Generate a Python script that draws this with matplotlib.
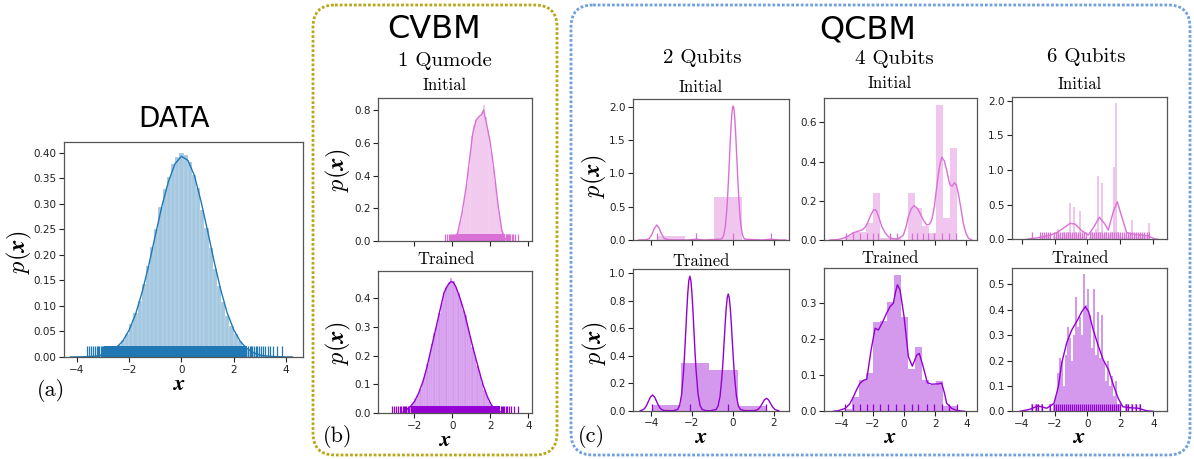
import numpy as np
import matplotlib
matplotlib.use('Agg')
import matplotlib.pyplot as plt
from matplotlib.patches import FancyBboxPatch
from matplotlib import transforms

plt.rcParams['mathtext.fontset'] = 'cm'
plt.rcParams['font.family'] = 'DejaVu Sans'

W, H = 1194, 459
C_DATA = '#1f77b4'
C_INIT = 'orchid'
C_TRAIN = 'darkviolet'

# ---------------- data ----------------
# DATA panel: normal samples
data_hist_range = (-3.76, 3.92)
data_hist = [0.001, 0.001, 0.002, 0.003, 0.004, 0.006, 0.010, 0.016, 0.023, 0.033, 0.045, 0.064,
             0.086, 0.110, 0.143, 0.178, 0.215, 0.250, 0.293, 0.328, 0.352, 0.377, 0.392, 0.400,
             0.395, 0.381, 0.356, 0.330, 0.288, 0.252, 0.214, 0.172, 0.140, 0.108, 0.080, 0.061,
             0.046, 0.031, 0.021, 0.014, 0.010, 0.006, 0.004, 0.002, 0.002, 0.001, 0.001, 0.001]
data_kde_x = [-4.25, -4.0, -3.75, -3.5, -3.25, -3.0, -2.75, -2.5, -2.25, -2.0, -1.75, -1.5, -1.25,
              -1.0, -0.75, -0.5, -0.25, 0.0, 0.25, 0.5, 0.75, 1.0, 1.25, 1.5, 1.75, 2.0, 2.25,
              2.5, 2.75, 3.0, 3.25, 3.5, 3.75, 4.0, 4.25]
data_kde_y = [0.0001, 0.0002, 0.0005, 0.001, 0.002, 0.005, 0.009, 0.018, 0.031, 0.053, 0.085,
              0.128, 0.180, 0.238, 0.295, 0.343, 0.378, 0.393, 0.385, 0.355, 0.305, 0.248, 0.188,
              0.133, 0.087, 0.054, 0.031, 0.017, 0.009, 0.004, 0.002, 0.001, 0.0005, 0.0002, 0.0001]
data_rug_core = (-2.98, 2.52)
data_rug = [-3.62, -3.55, -3.46, -3.38, -3.33, -3.25, -3.2, -3.14, -3.1, -3.05, -3.01,
            2.57, 2.62, 2.67, 2.72, 2.78, 2.84, 2.9, 2.97, 3.04, 3.12, 3.2, 3.3, 3.4, 3.52,
            3.66, 3.84]

# CVBM, 1 qumode
cv_init_hist_range = (0.0, 2.9)
cv_init_hist = [0.01, 0.02, 0.04, 0.08, 0.13, 0.19, 0.28, 0.35, 0.45, 0.55, 0.64, 0.71, 0.74,
                0.75, 0.76, 0.78, 0.83, 0.76, 0.68, 0.62, 0.55, 0.45, 0.37, 0.27, 0.18, 0.10,
                0.05, 0.02, 0.01]
cv_init_kde_x = [0.0, 0.27, 0.5, 0.72, 0.9, 1.07, 1.25, 1.4, 1.52, 1.64, 1.75, 1.96, 2.1, 2.23,
                 2.4, 2.59, 2.75, 2.9]
cv_init_kde_y = [0.005, 0.05, 0.17, 0.33, 0.50, 0.66, 0.74, 0.76, 0.77, 0.80, 0.74, 0.62, 0.51,
                 0.39, 0.22, 0.07, 0.02, 0.0]
cv_init_rug_core = (0.3, 2.75)
cv_init_rug = [-0.39, -0.3, -0.2, -0.12, -0.05, 0.0, 0.05, 0.1, 0.14, 0.18, 0.22, 0.26,
               2.8, 2.84, 2.88, 2.92, 2.96, 3.0, 3.05, 3.12, 3.2, 3.3, 3.46]

cv_train_hist_range = (-2.5, 2.5)
cv_train_hist = [0.01, 0.016, 0.025, 0.035, 0.048, 0.064, 0.085, 0.11, 0.135, 0.17, 0.205, 0.24,
                 0.28, 0.31, 0.35, 0.385, 0.42, 0.44, 0.455, 0.47, 0.46, 0.44, 0.42, 0.39, 0.36,
                 0.34, 0.30, 0.27, 0.23, 0.20, 0.165, 0.135, 0.105, 0.08, 0.06, 0.042, 0.028,
                 0.018, 0.01, 0.006]
cv_train_kde_x = [-2.6, -2.22, -2.0, -1.78, -1.55, -1.34, -1.1, -0.89, -0.65, -0.44, -0.25, -0.09,
                  0.05, 0.18, 0.4, 0.63, 0.85, 1.07, 1.35, 1.6, 1.85, 2.05, 2.3, 2.6]
cv_train_kde_y = [0.003, 0.022, 0.04, 0.069, 0.11, 0.16, 0.23, 0.29, 0.36, 0.42, 0.445, 0.458,
                  0.455, 0.44, 0.40, 0.35, 0.29, 0.23, 0.16, 0.10, 0.055, 0.028, 0.01, 0.002]
cv_train_rug_core = (-2.2, 2.5)
cv_train_rug = [-3.2, -3.05, -2.95, -2.85, -2.78, -2.7, -2.62, -2.55, -2.48, -2.42, -2.35, -2.28,
                2.55, 2.6, 2.66, 2.72, 2.8, 2.88, 2.97, 3.1, 3.25, 3.46]

# QCBM, 2 qubits
q2_init_hist_range = (-3.72, 1.85)
q2_init_hist = [0.065, 0.004, 0.65, 0.006]
q2_init_kde_x = [-4.6, -4.3, -4.1, -3.95, -3.85, -3.72, -3.6, -3.5, -3.35, -3.1, -2.2, -1.8, -1.4,
                 -0.6, -0.5, -0.45, -0.4, -0.35, -0.3, -0.25, -0.2, -0.15, -0.1, -0.05, 0.0, 0.05,
                 0.1, 0.15, 0.2, 0.25, 0.3, 0.35, 0.4, 0.45, 0.5, 0.55, 0.6, 1.45, 1.85, 2.25, 2.6]
q2_init_kde_y = [0.0, 0.002, 0.018, 0.09, 0.168, 0.225, 0.176, 0.097, 0.021, 0.002, 0.001, 0.012,
                 0.001, 0.012, 0.031, 0.067, 0.133, 0.245, 0.416, 0.656, 0.957, 1.293, 1.618,
                 1.873, 2.007, 1.992, 1.830, 1.555, 1.225, 0.893, 0.601, 0.376, 0.218, 0.116,
                 0.057, 0.026, 0.012, 0.001, 0.012, 0.001, 0.0]
q2_init_rug = [-3.72, -1.8, 0.0, 1.85]

q2_train_hist_range = (-3.93, 1.65)
q2_train_hist = [0.04, 0.345, 0.30, 0.036]
q2_train_kde_x = [-4.53, -4.43, -4.33, -4.23, -4.13, -4.03, -3.93, -3.83, -3.73, -3.63, -3.53,
                  -3.43, -3.33, -2.9, -2.7, -2.6, -2.5, -2.4, -2.35, -2.3, -2.25, -2.2, -2.15,
                  -2.1, -2.05, -2.0, -1.95, -1.9, -1.85, -1.8, -1.7, -1.6, -1.5, -1.3, -1.1,
                  -0.82, -0.72, -0.62, -0.52, -0.47, -0.42, -0.37, -0.32, -0.27, -0.22, -0.17,
                  -0.12, -0.07, -0.02, 0.03, 0.08, 0.18, 0.28, 0.38, 0.6, 0.9, 1.05, 1.15, 1.25,
                  1.35, 1.45, 1.55, 1.65, 1.75, 1.85, 1.95, 2.05, 2.15, 2.25]
q2_train_kde_y = [0.001, 0.0044, 0.014, 0.035, 0.068, 0.100, 0.114, 0.100, 0.068, 0.035, 0.014,
                  0.0044, 0.001, 0.0, 0.009, 0.038, 0.1225, 0.304, 0.434, 0.582, 0.731, 0.860,
                  0.949, 0.98, 0.949, 0.860, 0.731, 0.582, 0.434, 0.304, 0.1225, 0.038, 0.009,
                  0.0002, 0.0, 0.008, 0.033, 0.106, 0.264, 0.377, 0.505, 0.634, 0.746, 0.823,
                  0.85, 0.823, 0.746, 0.634, 0.505, 0.377, 0.264, 0.106, 0.033, 0.008, 0.0002,
                  0.0, 0.001, 0.0035, 0.011, 0.028, 0.053, 0.079, 0.09, 0.079, 0.053, 0.028,
                  0.011, 0.0035, 0.001]
q2_train_rug = [-3.93, -2.1, -0.22, 1.65]

# QCBM, 4 qubits
q4_hist_range = (-3.79, 3.39)
q4_init_hist = [0.02, 0.04, 0.04, 0.085, 0.24, 0.01, 0.01, 0.01, 0.0, 0.24, 0.165, 0.073, 0.034,
                0.69, 0.11, 0.47]
q4_init_kde_x = [-4.76, -4.3, -3.9, -3.55, -3.26, -2.95, -2.72, -2.5, -2.36, -2.15, -1.97, -1.86,
                 -1.76, -1.6, -1.43, -1.2, -1.01, -0.75, -0.47, -0.25, -0.04, 0.12, 0.28, 0.45,
                 0.64, 0.85, 1.03, 1.25, 1.46, 1.62, 1.78, 1.95, 2.1, 2.27, 2.42, 2.58, 2.74,
                 2.86, 2.96, 3.1, 3.24, 3.36, 3.49, 3.65, 3.81, 3.98, 4.14, 4.35]
q4_init_kde_y = [0.0, 0.002, 0.009, 0.022, 0.037, 0.045, 0.051, 0.065, 0.085, 0.125, 0.153, 0.155,
                 0.145, 0.11, 0.068, 0.035, 0.017, 0.007, 0.005, 0.012, 0.026, 0.065, 0.119,
                 0.158, 0.175, 0.162, 0.136, 0.10, 0.077, 0.080, 0.102, 0.17, 0.272, 0.37, 0.422,
                 0.405, 0.357, 0.31, 0.28, 0.275, 0.292, 0.28, 0.238, 0.165, 0.085, 0.035, 0.009,
                 0.0]
q4_init_rug = [-3.73, -3.26, -2.83, -2.40, -2.02, -1.65, -0.90, -0.43, 0.49, 0.82, 1.20, 1.56,
               1.95, 2.42, 2.91, 3.34]

q4_train_hist = [0.005, 0.04, 0.087, 0.105, 0.248, 0.25, 0.304, 0.378, 0.26, 0.116, 0.177, 0.087,
                 0.073, 0.084, 0.016, 0.016]
q4_train_kde_x = [-4.55, -4.2, -3.79, -3.5, -3.26, -3.05, -2.83, -2.6, -2.4, -2.12, -1.86, -1.65,
                  -1.37, -1.11, -0.9, -0.69, -0.55, -0.43, -0.26, 0.0, 0.28, 0.53, 0.82, 0.98,
                  1.2, 1.5, 1.78, 2.21, 2.42, 2.6, 2.74, 3.07, 3.39, 3.9]
q4_train_kde_y = [0.0, 0.002, 0.008, 0.02, 0.04, 0.06, 0.078, 0.086, 0.089, 0.17, 0.23, 0.225,
                  0.248, 0.273, 0.29, 0.299, 0.33, 0.35, 0.336, 0.262, 0.151, 0.125, 0.156, 0.16,
                  0.128, 0.079, 0.075, 0.076, 0.078, 0.05, 0.022, 0.008, 0.002, 0.0]
q4_train_rug = [-3.79, -3.26, -2.83, -2.36, -1.97, -1.54, -1.01, -0.51, 0.0, 0.49, 0.92, 1.46,
                1.93, 2.42, 2.91, 3.39]

# QCBM, 6 qubits (rug ticks sit on the occupied bins)
q6_hist_range = (-3.551, 3.769)
q6_init_hist = [0.0, 0.03, 0.0, 0.0, 0.0, 0.03, 0.03, 0.03, 0.06, 0.03, 0.06, 0.0, 0.08, 0.03,
                0.145, 0.06, 0.03, 0.1, 0.06, 0.1, 0.52, 0.06, 0.47, 0.1, 0.06, 0.41, 0.03, 0.06,
                0.03, 0.0, 0.03, 0.1, 0.06, 0.145, 0.915, 0.1, 0.82, 0.06, 0.1, 0.03, 0.06, 0.1,
                1.04, 1.97, 0.1, 0.06, 0.03, 0.03, 0.06, 0.03, 0.06, 0.28, 0.03, 0.06, 0.03, 0.06,
                0.03, 0.06, 0.03, 0.23]
q6_init_kde_x = [-3.7, -3.1, -2.48, -2.15, -1.87, -1.47, -1.06, -0.76, -0.35, 0.05, 0.39, 0.72,
                 1.06, 1.26, 1.57, 1.81, 2.08, 2.38, 2.75, 3.19, 3.7, 4.1, 4.3]
q6_init_kde_y = [0.0, 0.02, 0.048, 0.07, 0.096, 0.16, 0.23, 0.22, 0.124, 0.062, 0.18, 0.318,
                 0.22, 0.134, 0.40, 0.543, 0.327, 0.096, 0.077, 0.062, 0.048, 0.004, 0.0]

q6_train_hist = [0.0, 0.03, 0.0, 0.03, 0.03, 0.0, 0.03, 0.0, 0.0, 0.0, 0.03, 0.0, 0.03, 0.06,
                 0.15, 0.21, 0.2, 0.1, 0.22, 0.33, 0.29, 0.2, 0.3, 0.45, 0.33, 0.37, 0.3, 0.54,
                 0.42, 0.48, 0.38, 0.25, 0.48, 0.22, 0.39, 0.21, 0.38, 0.2, 0.12, 0.2, 0.1, 0.14,
                 0.06, 0.12, 0.03, 0.03, 0.0, 0.0, 0.03, 0.03, 0.0, 0.03, 0.0, 0.03, 0.0, 0.03,
                 0.0, 0.0, 0.0, 0.0]
q6_train_kde_x = [-4.1, -3.5, -2.99, -2.48, -2.04, -1.77, -1.57, -1.27, -0.96, -0.6, -0.35, -0.13,
                  0.07, 0.35, 0.66, 0.96, 1.27, 1.57, 1.87, 2.14, 2.58, 3.09, 3.6, 4.0]
q6_train_kde_y = [0.0, 0.008, 0.021, 0.012, 0.031, 0.097, 0.189, 0.268, 0.32, 0.36, 0.392, 0.412,
                  0.392, 0.32, 0.257, 0.202, 0.165, 0.104, 0.051, 0.018, 0.014, 0.012, 0.002, 0.0]


# ---------------- drawing ----------------
def dist(ax, color, hrange, heights, kx, ky, rug, core=None, edge=False):
    edges = np.linspace(hrange[0], hrange[1], len(heights) + 1)
    ax.bar(edges[:-1], heights, width=np.diff(edges), align='edge', color=color, alpha=0.4,
           edgecolor='white' if edge else 'none', linewidth=0.3 if edge else 0)
    ax.plot(kx, ky, color=color, lw=1.0)
    trans = transforms.blended_transform_factory(ax.transData, ax.transAxes)
    ax.vlines(rug, 0, 0.05, transform=trans, color=color, lw=0.9)
    if core is not None:
        ax.axvspan(core[0], core[1], ymin=0, ymax=0.05, color=color, lw=0)


def style(ax, xlim, ylim, xticks, yticks, xlabels=True):
    ax.set_xlim(*xlim)
    ax.set_ylim(*ylim)
    ax.set_xticks(xticks)
    ax.set_yticks(yticks)
    ax.tick_params(labelsize=7.5, length=3.5, width=0.8, pad=2, colors='#222222')
    if not xlabels:
        ax.tick_params(labelbottom=False)
    for s in ax.spines.values():
        s.set_color('#555555')
        s.set_linewidth(0.9)


fig = plt.figure(figsize=(W / 100, H / 100), dpi=100)

bg = fig.add_axes([0, 0, 1, 1])
bg.set_xlim(0, W)
bg.set_ylim(H, 0)
bg.axis('off')


def axes_px(x0, y0, x1, y1):
    return fig.add_axes([x0 / W, 1 - y1 / H, (x1 - x0) / W, (y1 - y0) / H])


# DATA
ax = axes_px(64, 142, 303, 357)
dist(ax, C_DATA, data_hist_range, data_hist, data_kde_x, data_kde_y, data_rug, data_rug_core, edge=True)
style(ax, (-4.5, 4.66), (0, 0.421), [-4, -2, 0, 2, 4], np.arange(0, 0.41, 0.05))

# CVBM
ax = axes_px(378.3, 98.3, 532.3, 241.3)
dist(ax, C_INIT, cv_init_hist_range, cv_init_hist, cv_init_kde_x, cv_init_kde_y, cv_init_rug,
     cv_init_rug_core, edge=True)
style(ax, (-3.9, 4.2), (0, 0.871), [-2, 0, 2, 4], [0, 0.2, 0.4, 0.6, 0.8], xlabels=False)

ax = axes_px(378.3, 270.7, 532.3, 413)
dist(ax, C_TRAIN, cv_train_hist_range, cv_train_hist, cv_train_kde_x, cv_train_kde_y,
     cv_train_rug, cv_train_rug_core, edge=True)
style(ax, (-3.9, 4.2), (0, 0.496), [-2, 0, 2, 4], [0, 0.1, 0.2, 0.3, 0.4])

# 2 qubits
ax = axes_px(633.3, 99.3, 789.3, 240)
dist(ax, C_INIT, q2_init_hist_range, q2_init_hist, q2_init_kde_x, q2_init_kde_y, q2_init_rug)
style(ax, (-4.87, 2.77), (0, 2.11), [-4, -2, 0, 2], [0, 0.5, 1.0, 1.5, 2.0], xlabels=False)

ax = axes_px(633.3, 269.3, 789.3, 410.7)
dist(ax, C_TRAIN, q2_train_hist_range, q2_train_hist, q2_train_kde_x, q2_train_kde_y, q2_train_rug)
style(ax, (-4.87, 2.77), (0, 1.03), [-4, -2, 0, 2], [0, 0.2, 0.4, 0.6, 0.8, 1.0])

# 4 qubits
ax = axes_px(824.3, 97.7, 977.3, 240)
dist(ax, C_INIT, q4_hist_range, q4_init_hist, q4_init_kde_x, q4_init_kde_y, q4_init_rug)
style(ax, (-5.13, 4.71), (0, 0.726), [-4, -2, 0, 2, 4], [0, 0.2, 0.4, 0.6], xlabels=False)

ax = axes_px(824.3, 268.3, 977.3, 411.3)
dist(ax, C_TRAIN, q4_hist_range, q4_train_hist, q4_train_kde_x, q4_train_kde_y, q4_train_rug)
style(ax, (-5.13, 4.71), (0, 0.396), [-4, -2, 0, 2, 4], [0, 0.1, 0.2, 0.3])

# 6 qubits
q6_edges = np.linspace(q6_hist_range[0], q6_hist_range[1], len(q6_init_hist) + 1)
q6_centers = (q6_edges[:-1] + q6_edges[1:]) / 2
ax = axes_px(1012.3, 96.7, 1167.3, 239.3)
dist(ax, C_INIT, q6_hist_range, q6_init_hist, q6_init_kde_x, q6_init_kde_y,
     q6_centers[np.array(q6_init_hist) > 0])
style(ax, (-4.57, 4.85), (0, 2.06), [-4, -2, 0, 2, 4], [0, 0.5, 1.0, 1.5, 2.0], xlabels=False)

ax = axes_px(1012.3, 268.3, 1167.3, 411.3)
dist(ax, C_TRAIN, q6_hist_range, q6_train_hist, q6_train_kde_x, q6_train_kde_y,
     q6_centers[np.array(q6_train_hist) > 0])
style(ax, (-4.57, 4.85), (0, 0.563), [-4, -2, 0, 2, 4], [0, 0.1, 0.2, 0.3, 0.4, 0.5])

# frames
for (x0, y0, x1, y1), col in [((313, 5, 557, 455), '#bba61a'), ((571, 5, 1190, 455), '#6ea0e0')]:
    bg.add_patch(FancyBboxPatch((x0, y0), x1 - x0, y1 - y0,
                                boxstyle='round,pad=0,rounding_size=22', fill=False,
                                edgecolor=col, lw=2.0, linestyle=(0, (1, 0.7))))

# headings
cm = 'cmr10'
bg.text(174, 126.7, 'DATA', fontsize=20, ha='center', va='baseline')
bg.text(434.5, 38, 'CVBM', fontsize=23, ha='center', va='baseline')
bg.text(868, 38.3, 'QCBM', fontsize=23, ha='center', va='baseline')
for x, y, s in [(445, 66, '1 Qumode'), (702, 63.3, '2 Qubits'), (894, 64, '4 Qubits'),
                (1086, 61.5, '6 Qubits')]:
    bg.text(x, y, s, fontsize=15, family=cm, ha='center', va='baseline')
for x, y in [(445, 90), (700.5, 92.3), (890, 88.3), (1079.5, 89.3)]:
    bg.text(x, y, 'Initial', fontsize=12, family=cm, ha='center', va='baseline')
for x, y in [(445.8, 264), (700.8, 266), (890, 262.7), (1079.7, 263.3)]:
    bg.text(x, y, 'Trained', fontsize=12, family=cm, ha='center', va='baseline')

for x, y in [(19, 252.5), (338, 170), (338, 343), (594, 175.8), (595.5, 343)]:
    bg.text(x, y, r'$p(\boldsymbol{x})$', fontsize=17.5, rotation=90, ha='center', va='center')
for x, y in [(179, 390), (445, 446.5), (700.7, 443), (890, 443), (1079, 443)]:
    bg.text(x, y, r'$\boldsymbol{x}$', fontsize=16, ha='center', va='baseline')
for x, y, s in [(51, 391, '(a)'), (338, 436, '(b)'), (591, 436, '(c)')]:
    bg.text(x, y, s, fontsize=16, family=cm, ha='center', va='center')

fig.savefig('out.png', dpi=100)
